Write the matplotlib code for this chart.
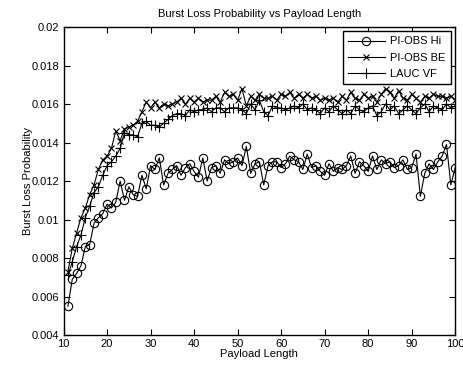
import numpy as np
import matplotlib
matplotlib.use('Agg')
import matplotlib.pyplot as plt

plt.rcParams['font.family'] = ['Liberation Sans', 'DejaVu Sans']

payload = list(range(11, 101))

pi_obs_hi = [0.0055, 0.0069, 0.0072, 0.0076, 0.0086, 0.0087, 0.0098, 0.0101, 0.0103, 0.0108,
             0.0106, 0.0109, 0.0120, 0.0110, 0.0117, 0.0113, 0.0112, 0.0123, 0.0116, 0.0128,
             0.0126, 0.0132, 0.0118, 0.0124, 0.0126, 0.0128, 0.0123, 0.0127, 0.0129, 0.0125,
             0.0122, 0.0132, 0.0120, 0.0127, 0.0128, 0.0124, 0.0131, 0.0129, 0.0130, 0.0132,
             0.0128, 0.0138, 0.0124, 0.0129, 0.0130, 0.0118, 0.0128, 0.0130, 0.0130, 0.0127,
             0.0129, 0.0133, 0.0131, 0.0130, 0.0126, 0.0134, 0.0127, 0.0128, 0.0125, 0.0123,
             0.0129, 0.0125, 0.0127, 0.0126, 0.0128, 0.0133, 0.0124, 0.0130, 0.0128, 0.0125,
             0.0133, 0.0126, 0.0131, 0.0129, 0.0130, 0.0127, 0.0128, 0.0131, 0.0126, 0.0127,
             0.0134, 0.0112, 0.0124, 0.0129, 0.0126, 0.0130, 0.0133, 0.0139, 0.0118, 0.0127]

pi_obs_be = [0.0073, 0.0085, 0.0093, 0.0101, 0.0106, 0.0113, 0.0118, 0.0126, 0.0131, 0.0133,
             0.0137, 0.0146, 0.0141, 0.0147, 0.0148, 0.0149, 0.0151, 0.0156, 0.0161, 0.0158,
             0.0161, 0.0158, 0.0160, 0.0159, 0.0160, 0.0161, 0.0163, 0.0160, 0.0163, 0.0161,
             0.0163, 0.0161, 0.0162, 0.0162, 0.0164, 0.0161, 0.0166, 0.0164, 0.0165, 0.0162,
             0.0168, 0.0159, 0.0164, 0.0162, 0.0165, 0.0163, 0.0163, 0.0164, 0.0162, 0.0165,
             0.0164, 0.0166, 0.0163, 0.0165, 0.0163, 0.0165, 0.0163, 0.0164, 0.0162, 0.0163,
             0.0162, 0.0163, 0.0161, 0.0164, 0.0162, 0.0166, 0.0163, 0.0162, 0.0165, 0.0163,
             0.0164, 0.0161, 0.0165, 0.0168, 0.0166, 0.0163, 0.0167, 0.0163, 0.0162, 0.0165,
             0.0163, 0.0161, 0.0164, 0.0163, 0.0165, 0.0164, 0.0164, 0.0163, 0.0164, 0.0162]

lauc_vf = [0.0071, 0.0078, 0.0086, 0.0092, 0.0101, 0.0107, 0.0114, 0.0117, 0.0123, 0.0128,
           0.0130, 0.0133, 0.0137, 0.0145, 0.0144, 0.0144, 0.0143, 0.0150, 0.0151, 0.0149,
           0.0149, 0.0148, 0.0150, 0.0152, 0.0154, 0.0155, 0.0155, 0.0154, 0.0157, 0.0156,
           0.0157, 0.0157, 0.0158, 0.0156, 0.0158, 0.0158, 0.0156, 0.0158, 0.0158, 0.0158,
           0.0157, 0.0155, 0.0160, 0.0157, 0.0162, 0.0156, 0.0154, 0.0159, 0.0158, 0.0158,
           0.0157, 0.0158, 0.0159, 0.0158, 0.0160, 0.0157, 0.0158, 0.0157, 0.0155, 0.0158,
           0.0156, 0.0159, 0.0157, 0.0155, 0.0157, 0.0155, 0.0159, 0.0157, 0.0156, 0.0158,
           0.0159, 0.0154, 0.0156, 0.0160, 0.0157, 0.0159, 0.0155, 0.0157, 0.0159, 0.0157,
           0.0155, 0.0158, 0.0160, 0.0156, 0.0159, 0.0158, 0.0157, 0.0160, 0.0158, 0.0159]

xticks = [10, 20, 30, 40, 50, 60, 70, 80, 90, 100]
yticks = [0.004, 0.006, 0.008, 0.01, 0.012, 0.014, 0.016, 0.018, 0.02]

fig = plt.figure(figsize=(4.64, 3.65), dpi=100)
ax = fig.add_axes([0.137, 0.082, 0.844, 0.844])

ax.plot(payload, pi_obs_hi, color='black', lw=0.8, marker='o', ms=6,
        mfc='none', mec='black', mew=0.8, label='PI-OBS Hi')
ax.plot(payload, pi_obs_be, color='black', lw=0.8, marker='x', ms=4,
        mew=0.8, label='PI-OBS BE')
ax.plot(payload, lauc_vf, color='black', lw=0.8, marker='+', ms=7,
        mew=0.8, label='LAUC VF')

ax.set_xlim(10, 100)
ax.set_ylim(0.004, 0.02)
ax.set_xticks(xticks)
ax.set_xticklabels([str(t) for t in xticks])
ax.set_yticks(yticks)
ax.set_yticklabels(['0.004', '0.006', '0.008', '0.01', '0.012', '0.014', '0.016', '0.018', '0.02'])
ax.tick_params(direction='in', top=True, right=True, length=4, width=0.8, labelsize=8, pad=3)
for s in ax.spines.values():
    s.set_linewidth(1.0)

ax.set_title('Burst Loss Probability vs Payload Length', fontsize=8, pad=7)
ax.set_xlabel('Payload Length', fontsize=8, labelpad=0)
ax.set_ylabel('Burst Loss Probability', fontsize=8, labelpad=-1)

leg = ax.legend(loc='upper right', fontsize=8, fancybox=False, framealpha=1,
                edgecolor='black', borderaxespad=0.4, handlelength=3.3,
                handletextpad=0.5, labelspacing=0.55, borderpad=0.45)
leg.get_frame().set_linewidth(1.0)

fig.savefig('out.png', dpi=100)
